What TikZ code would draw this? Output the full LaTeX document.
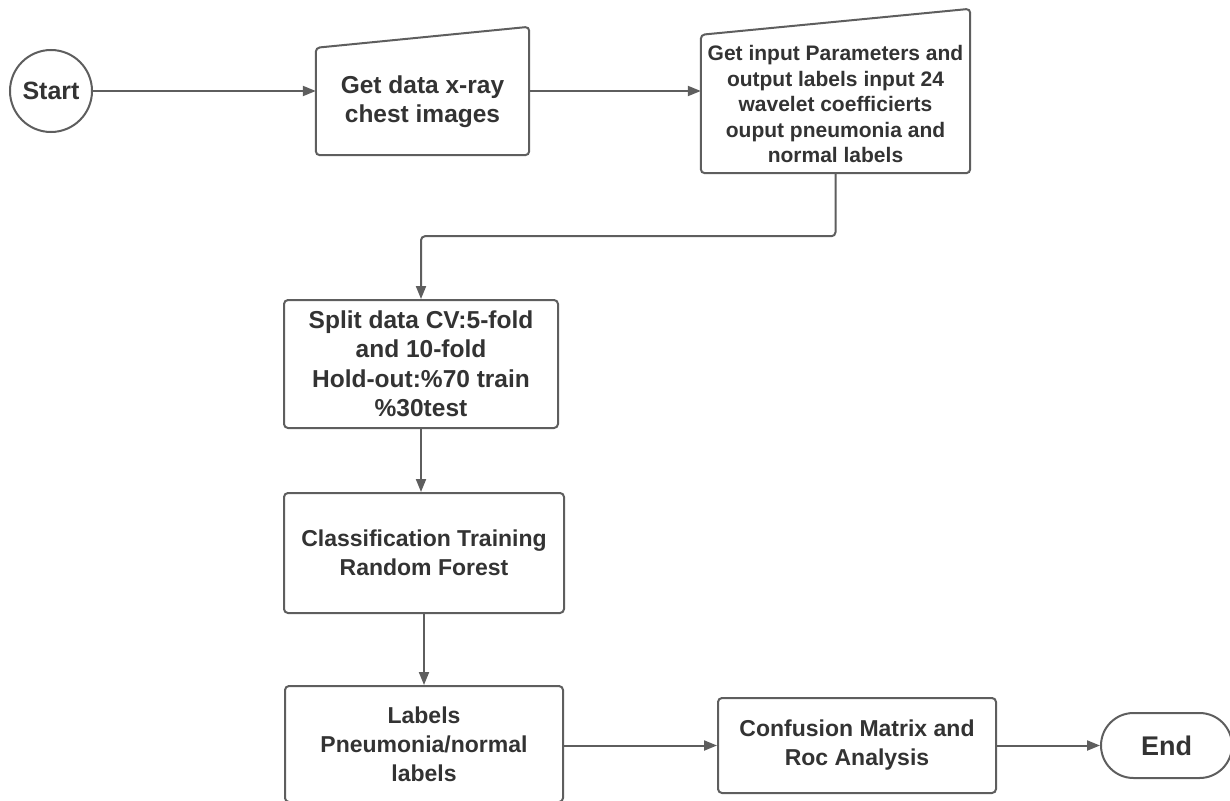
\documentclass[tikz,border=0pt]{standalone}
\usepackage{fontspec}
\setmainfont{Liberation Sans}
\usetikzlibrary{positioning, calc, arrows.meta, shapes.misc}
\definecolor{linegray}{HTML}{5E5E5E}
\definecolor{textgray}{HTML}{333333}
\tikzset{>={Triangle[length=13pt,width=10pt]}}
\newcommand{\boxfont}{\fontsize{23}{29}\selectfont\bfseries}
\newcommand{\bigboxfont}{\fontsize{24.5}{29.5}\selectfont\bfseries}

\begin{document}
\begin{tikzpicture}[x=1pt,y=-1pt,
    every node/.style={text=textgray,align=center,inner sep=0pt},
    line/.style={draw=linegray,line width=2pt},
    step box/.style={line,rectangle,rounded corners=4pt,font=\boxfont},
    input box/.style={rectangle,font=\boxfont},
    arrow/.style={line,->}]
    \useasboundingbox (0,0) rectangle (1230,800);
    \node[line,circle,minimum size=82pt,font=\fontsize{25}{30}\selectfont\bfseries] (start) at (51,91) {Start};
    \node[input box,minimum width=213pt,minimum height=107pt,font=\bigboxfont] (getdata) at (422.5,101.5) {Get data x-ray\\chest images};
    \node[input box,minimum width=269pt,minimum height=138pt,font=\fontsize{21}{25.5}\selectfont\bfseries] (params) at (835.5,104) {Get input Parameters and\\output labels input 24\\wavelet coefficierts\\ouput pneumonia and\\normal labels};
    \node[step box,minimum width=274pt,minimum height=128pt,font=\bigboxfont] (split) at (421,364) {Split data CV:5-fold\\and 10-fold\\Hold-out:\%70 train\\\%30test};
    \node[step box,minimum width=280pt,minimum height=120pt] (train) at (424,553) {Classification Training\\Random Forest};
    \node[step box,minimum width=278pt,minimum height=116pt] (labels) at (424,744) {Labels\\Pneumonia/normal\\labels};
    \node[step box,minimum width=278pt,minimum height=95pt] (confusion) at (857,745.5) {Confusion Matrix and\\Roc Analysis};
    \node[line,rounded rectangle,minimum width=131pt,minimum height=65pt,font=\fontsize{27}{32}\selectfont\bfseries] (end) at (1166.5,745.5) {End};
    % manual input outlines
    \draw[line,rounded corners=4pt] (getdata.south west) -- (getdata.north west) -- ($(getdata.north east)+(0,-21)$) -- (getdata.south east) -- cycle;
    \draw[line,rounded corners=4pt] (params.south west) -- (params.north west) -- ($(params.north east)+(0,-26)$) -- (params.south east) -- cycle;
    % connectors
    \draw[arrow] (start) -- (start -| getdata.west);
    \draw[arrow] (getdata.east |- start) -- (start -| params.west);
    \draw[arrow,rounded corners=4pt] (params.south) -- ++(0,63) -| (split.north);
    \draw[arrow] (split.south) -- (split.south |- train.north);
    \draw[arrow] (train.south) -- (train.south |- labels.north);
    \draw[arrow] (labels.east |- confusion) -- (confusion.west);
    \draw[arrow] (confusion) -- (end);
\end{tikzpicture}
\end{document}
